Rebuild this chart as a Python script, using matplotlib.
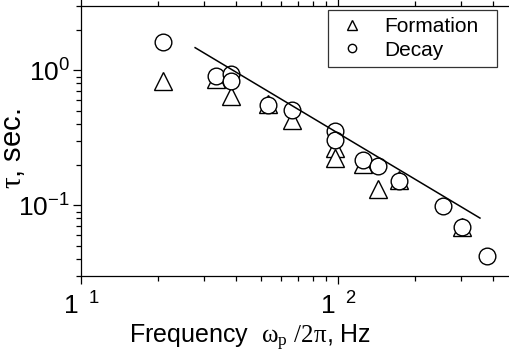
import matplotlib
matplotlib.use('Agg')
import matplotlib.pyplot as plt
from matplotlib.ticker import FixedLocator, FixedFormatter, LogLocator, NullFormatter

plt.rcParams['font.family'] = ['Liberation Sans', 'DejaVu Sans']
plt.rcParams['mathtext.fontset'] = 'custom'
plt.rcParams['mathtext.rm'] = 'Liberation Serif'
plt.rcParams['mathtext.it'] = 'Liberation Serif:italic'
plt.rcParams['mathtext.sf'] = 'Liberation Sans'

# data
decay_freq = [20.9, 33.4, 38.2, 38.2, 53.5, 66.0, 97.3, 97.3, 125.4, 143.5, 173.2, 257, 303, 379]
decay_tau = [1.61, 0.907, 0.934, 0.833, 0.559, 0.513, 0.354, 0.307, 0.218, 0.195, 0.151, 0.0983, 0.0687, 0.0423]
formation_freq = [20.9, 33.4, 38.2, 53.5, 66.0, 97.3, 97.3, 125.4, 143.5, 173.2, 303]
formation_tau = [0.833, 0.868, 0.647, 0.566, 0.431, 0.268, 0.226, 0.203, 0.132, 0.153, 0.0687]
fit_freq = [27.8, 356.8]
fit_tau = [1.474, 0.0806]

x_ticks = [10, 100]
x_ticklabels = [r'$\mathregular{1\;\;{}^{1}}$', r'$\mathregular{1\;\;{}^{2}}$']
y_ticks = [0.1, 1]
y_ticklabels = [r'$\mathregular{10^{-1}}$', r'$\mathregular{10^{0}}$']

fig = plt.figure(figsize=(5.1, 3.61), dpi=100)
ax = fig.add_axes([81 / 510, 1 - 276 / 361, 1 - 81 / 510, 270 / 361])

ax.plot(formation_freq, formation_tau, linestyle='none', marker='^', ms=13.5,
        mfc='white', mec='black', mew=1.0, label='Formation', zorder=2)
ax.plot(decay_freq, decay_tau, linestyle='none', marker='o', ms=12,
        mfc='white', mec='black', mew=1.0, label='Decay', zorder=3)
ax.plot(fit_freq, fit_tau, color='black', lw=1.1, zorder=4)

ax.set_xscale('log')
ax.set_yscale('log')
ax.set_xlim(10, 467)
ax.set_ylim(0.03, 3.0)

ax.xaxis.set_major_locator(FixedLocator(x_ticks))
ax.xaxis.set_major_formatter(FixedFormatter(x_ticklabels))
ax.xaxis.set_minor_locator(LogLocator(base=10, subs=range(2, 10)))
ax.xaxis.set_minor_formatter(NullFormatter())
ax.yaxis.set_major_locator(FixedLocator(y_ticks))
ax.yaxis.set_major_formatter(FixedFormatter(y_ticklabels))
ax.yaxis.set_minor_locator(LogLocator(base=10, subs=range(2, 10)))
ax.yaxis.set_minor_formatter(NullFormatter())

ax.spines['right'].set_visible(False)
for s in ['left', 'bottom', 'top']:
    ax.spines[s].set_linewidth(0.9)
ax.tick_params(which='both', direction='out', top=True, right=False, width=0.9)
ax.tick_params(which='major', length=6)
ax.tick_params(which='minor', length=3.5)
ax.tick_params(axis='x', labelsize=19, pad=6)
ax.tick_params(axis='y', labelsize=19, pad=2)

ax.set_xlabel(r'Frequency  $\mathrm{\omega_p}$ $\mathrm{/2\pi}$, Hz', fontsize=18)
ax.xaxis.set_label_coords(0.394, -0.175)
ax.set_ylabel(r'$\mathrm{\tau}$, sec.', fontsize=21)
ax.yaxis.set_label_coords(-0.125, 0.47)

# legend box stretched to the width seen in the reference
leg = ax.legend(loc='upper left', bbox_to_anchor=(0.576, 0.5, 0.394, 0.485), mode='expand',
                borderaxespad=0, fontsize=15, markerscale=0.5, frameon=True, fancybox=False,
                borderpad=0.35, labelspacing=0.2, handletextpad=0.75, handlelength=1.6)
leg.get_frame().set_edgecolor('black')
leg.get_frame().set_linewidth(0.9)

fig.savefig('out.png', dpi=100)
